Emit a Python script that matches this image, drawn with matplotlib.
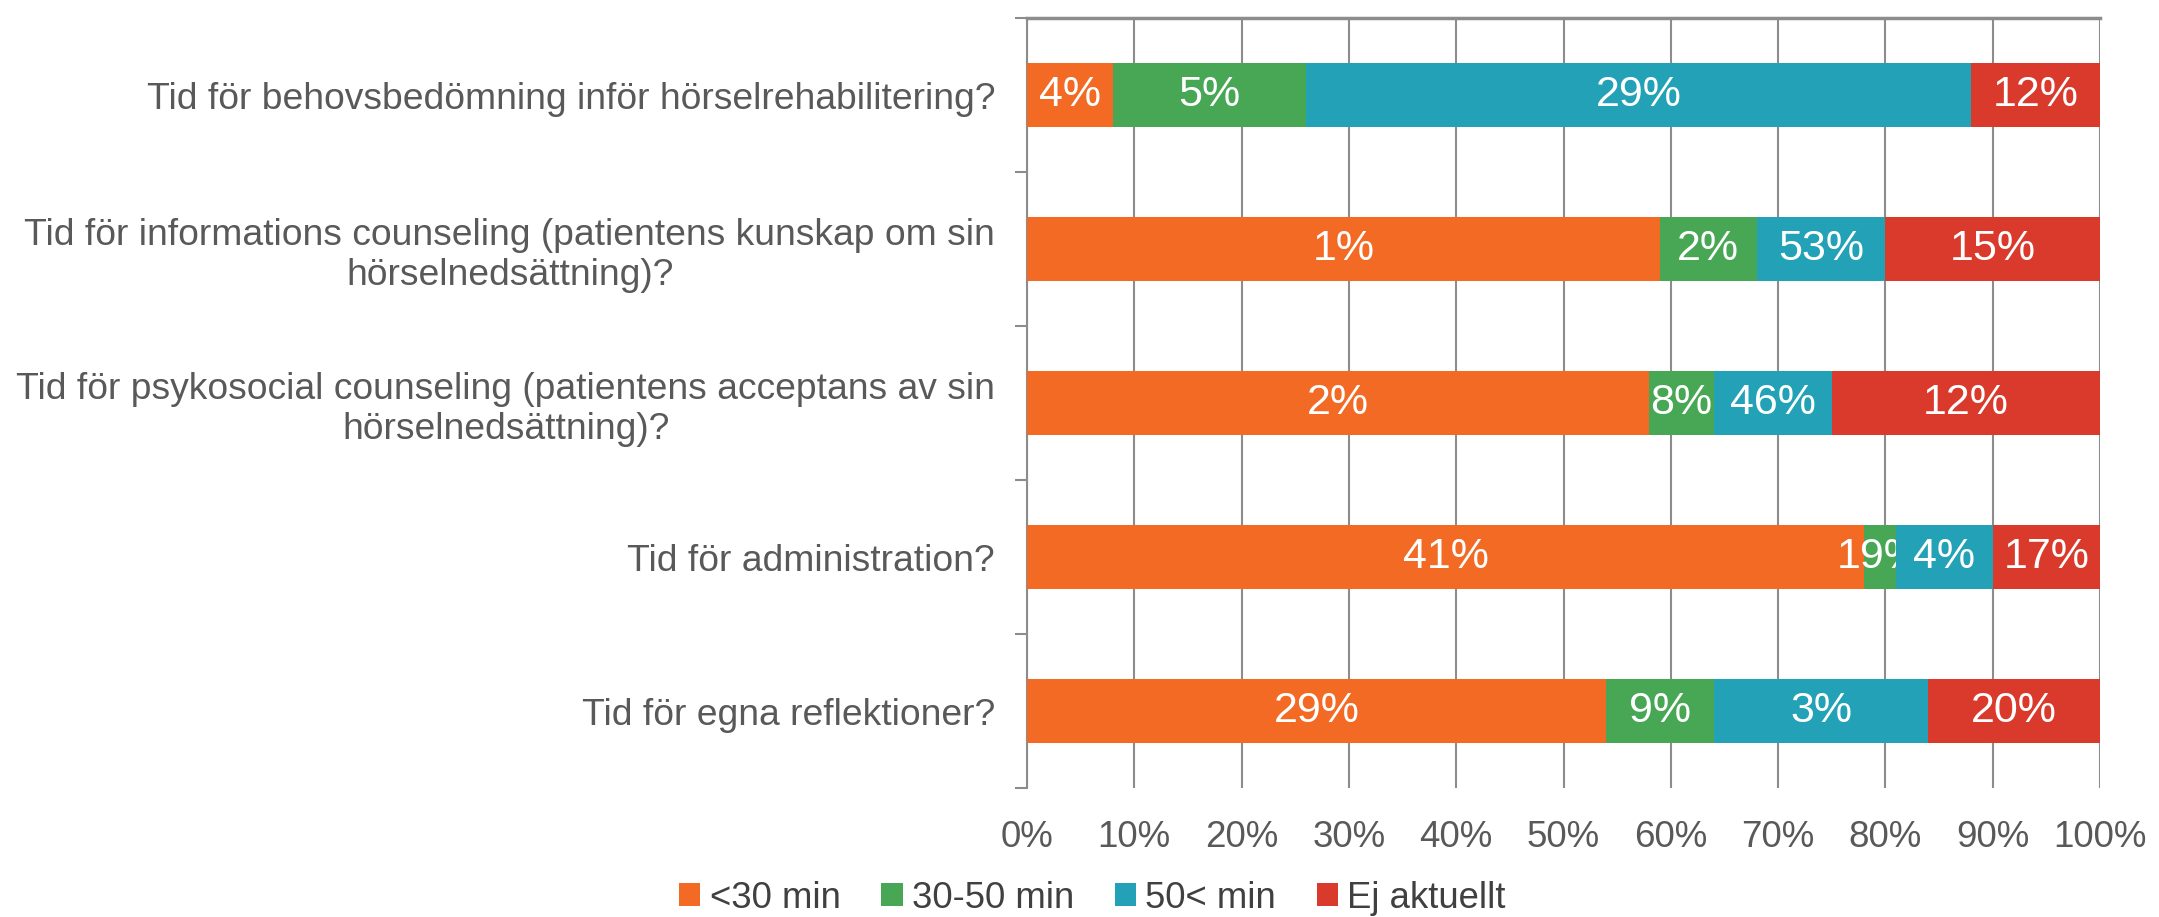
import matplotlib.pyplot as plt
import numpy as np

plt.rcParams['font.family'] = ['Liberation Sans', 'DejaVu Sans']

categories = ["Tid för behovsbedömning inför hörselrehabilitering?",
              "Tid för informations counseling (patientens kunskap om sin\nhörselnedsättning)?",
              "Tid för psykosocial counseling (patientens acceptans av sin\nhörselnedsättning)?",
              "Tid för administration?",
              "Tid för egna reflektioner?"]

series_names = ["<30 min", "30-50 min", "50< min", "Ej aktuellt"]

# segment widths (share of 100%)
under30 = [8, 59, 58, 78, 54]
mid30_50 = [18, 9, 6, 3, 10]
over50 = [62, 12, 11, 9, 20]
ej_aktuellt = [12, 20, 25, 10, 16]

# labels as printed in the bars (they do not match the widths)
under30_lbl = ["4%", "1%", "2%", "41%", "29%"]
mid30_50_lbl = ["5%", "2%", "8%", "19%", "9%"]
over50_lbl = ["29%", "53%", "46%", "4%", "3%"]
ej_aktuellt_lbl = ["12%", "15%", "12%", "17%", "20%"]

colors = ["#F26A24", "#47A755", "#23A2B7", "#DA3A2C"]

values = [under30, mid30_50, over50, ej_aktuellt]
labels = [under30_lbl, mid30_50_lbl, over50_lbl, ej_aktuellt_lbl]

fig = plt.figure(figsize=(21.59, 9.17), dpi=100)
ax = fig.add_axes([1027/2159, 1 - 788/917, (2100 - 1027)/2159, (788 - 18)/917])

y_pos = np.arange(len(categories))
left = np.zeros(len(categories))
for name, vals, lbls, col in zip(series_names, values, labels, colors):
    bars = ax.barh(y_pos, vals, left=left, height=0.415, color=col, label=name, zorder=3)
    ax.bar_label(bars, labels=lbls, label_type='center', color='white', fontsize=31)
    left = left + np.array(vals)

ax.set_xlim(0, 100)
ax.set_ylim(len(categories) - 0.5, -0.5)

ax.set_xticks(np.arange(0, 101, 10))
ax.set_xticklabels([f"{v}%" for v in range(0, 101, 10)])
ax.tick_params(axis='x', length=0, pad=23, labelsize=26.5, labelcolor='#595959')
ax.grid(axis='x', color='#8C8C8C', linewidth=1.5, zorder=0)

# ticks sit between the categories, labels at the centres
ax.set_yticks(np.arange(-0.5, len(categories), 1))
ax.set_yticklabels([])
ax.set_yticks(y_pos, minor=True)
ax.set_yticklabels(categories, minor=True)
ax.tick_params(axis='y', which='major', length=9, width=1.5, color='#8C8C8C', direction='out')
ax.tick_params(axis='y', which='minor', length=0, pad=23, labelsize=26.8, labelcolor='#595959')
for t in ax.get_yticklabels(minor=True):
    t.set_multialignment('center')

for s in ['bottom', 'right']:
    ax.spines[s].set_visible(False)
ax.spines['left'].set_color('#8C8C8C')
ax.spines['left'].set_linewidth(1.5)
ax.spines['top'].set_color('#8C8C8C')
ax.spines['top'].set_linewidth(2.5)

leg = fig.legend(loc='center', bbox_to_anchor=(0.506, 1 - 898/917), ncol=4, frameon=False,
                 fontsize=26.3, handlelength=0.58, handleheight=0.58, handletextpad=0.25,
                 columnspacing=1.12)
for t in leg.get_texts():
    t.set_color('#404040')

plt.savefig("out.png", dpi=100)
